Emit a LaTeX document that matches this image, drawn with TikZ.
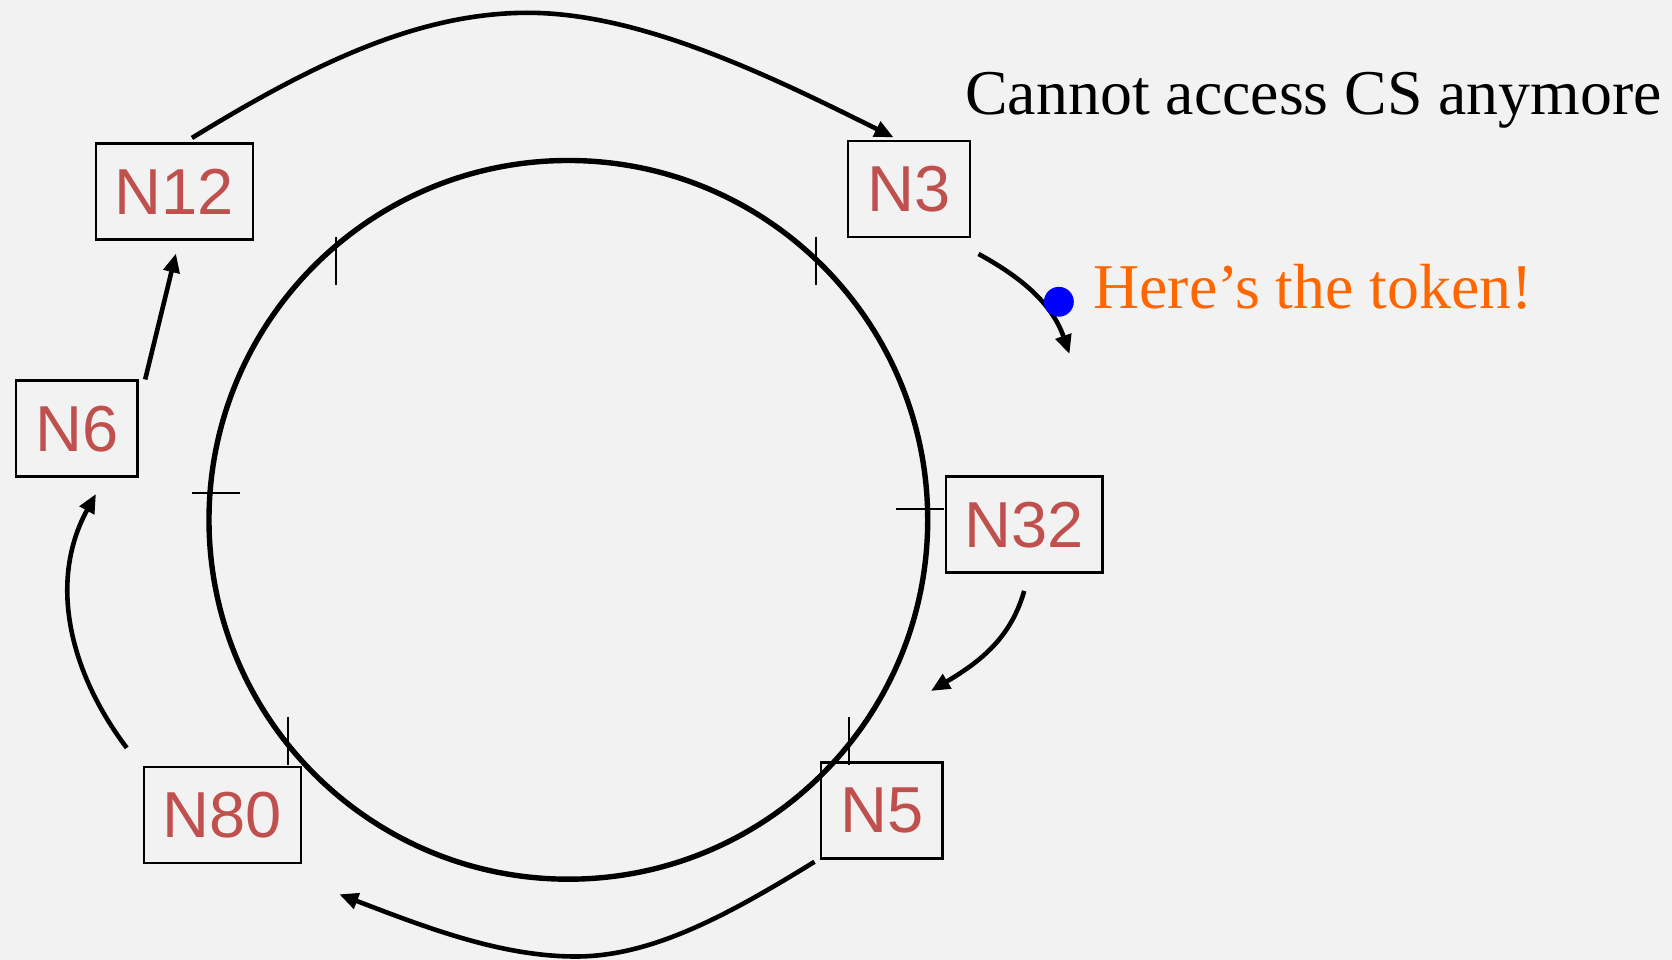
\documentclass[tikz,border=0pt]{standalone}
\usepackage{fontspec}
\setmainfont{Liberation Serif}
\newfontfamily\labelsans{Liberation Sans}
\usetikzlibrary{arrows.meta,calc}
\definecolor{bg}{HTML}{F2F2F2}
\definecolor{nred}{HTML}{C0504D}
\definecolor{tokorange}{HTML}{FF6600}
\begin{document}
\begin{tikzpicture}[x=0.53316pt,y=-0.53316pt,
  ringnode/.style={draw=black,line width=1.2pt,inner sep=0pt,minimum height=48pt,
    font=\labelsans\fontsize{32.5}{36}\selectfont,text=nred},
  widebox/.style={ringnode,minimum width=78.4pt},
  narrowbox/.style={ringnode,minimum width=60.8pt},
  conn/.style={line width=2.3pt,-{Triangle[length=9.5pt,width=8pt]}},
  tick/.style={line width=0.9pt},
  bigtext/.style={inner sep=0pt,anchor=base west,font=\fontsize{31.9}{36}\selectfont}]
\fill[bg] (0,0) rectangle (1568,900);
\useasboundingbox (0,0) rectangle (1568,900);
% ring
\draw[line width=2.7pt] (533,487.5) circle[radius=337];
% ticks
\draw[tick] (315,222) -- (315,267);
\draw[tick] (765,222) -- (765,267);
\draw[tick] (180,462) -- (225,462);
\draw[tick] (840,477) -- (885,477);
\draw[tick] (270,672) -- (270,717);
\draw[tick] (796,672) -- (796,717);
% nodes
\node[widebox] (n12) at (163.5,179.5) {N12};
\node[narrowbox] (n3) at (852.5,177) {N3};
\node[narrowbox] (n6) at (72,402) {N6};
\node[widebox] (n32) at (960.5,492) {N32};
\node[widebox] (n80) at (208.5,764.5) {N80};
\node[narrowbox] (n5) at (827,760) {N5};
% free ends
\coordinate (tokend) at (1003,332);
\coordinate (n32end) at (873,648);
% texts
\node[bigtext] (cs) at (905,107) {Cannot access CS anymore};
\node[bigtext,text=tokorange] (tok) at (1025,289) {Here’s the token!};
% connectors
\draw[conn] ($(n12.north)+(16.5,-4)$) .. controls (290,62) and (390,12) .. (495,12)
   .. controls (600,12) and (720,70) .. ($(n3.north)+(-14.5,-2)$);
\draw[conn] ($(n6.north east)+(6,0)$) -- ($(n12.south)+(1.5,12)$);
\draw[conn] ($(n80.north west)+(-15,-17)$) .. controls (65,630) and (45,545) .. ($(n6.south)+(18,15)$);
\draw[conn] ($(n5.south west)+(-5,2)$) .. controls (680,860) and (610,897) .. (540,897)
   .. controls (470,897) and (400,870) .. ($(n80.south east)+(35,28)$);
\draw[conn] ($(n32.south)+(0,16)$) .. controls (948,598) and (920,620) .. (n32end);
\draw[conn] ($(n3.south east)+(7,15)$) .. controls (950,256) and (985,280) .. (tokend);
\fill[blue] (993,283) circle[radius=14] coordinate (dot);
\end{tikzpicture}
\end{document}
